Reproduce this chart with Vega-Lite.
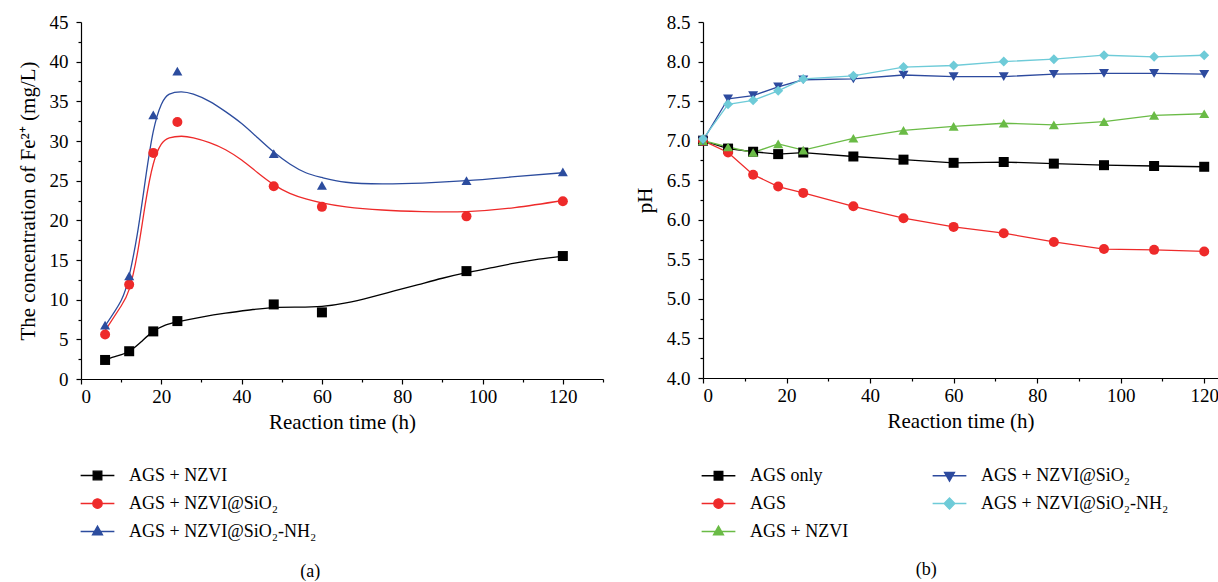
{
  "$schema": "https://vega.github.io/schema/vega-lite/v6.json",
  "background": "white",
  "padding": {"left": 17, "top": 13, "right": 0, "bottom": 0},
  "config": {
    "font": "Liberation Serif",
    "view": {"stroke": null},
    "axis": {
      "grid": false,
      "domainColor": "black",
      "tickColor": "black",
      "labelColor": "black",
      "titleColor": "black",
      "labelFont": "Liberation Serif",
      "titleFont": "Liberation Serif",
      "labelFontSize": 19,
      "titleFontSize": 21,
      "titleFontWeight": "normal",
      "domainWidth": 1.2,
      "tickWidth": 1.2
    },
    "legend": {"labelFont": "Liberation Serif", "labelFontSize": 18, "labelColor": "black", "labelLimit": 0},
    "title": {"font": "Liberation Serif", "fontSize": 18, "fontWeight": "normal", "color": "black"}
  },
  "datasets": {
    "fe": [
      {"s": "AGS + NZVI", "t": 6, "v": 2.4}, {"s": "AGS + NZVI", "t": 12, "v": 3.5}, {"s": "AGS + NZVI", "t": 18, "v": 6.0}, {"s": "AGS + NZVI", "t": 24, "v": 7.3},
      {"s": "AGS + NZVI", "t": 48, "v": 9.4}, {"s": "AGS + NZVI", "t": 60, "v": 8.4}, {"s": "AGS + NZVI", "t": 96, "v": 13.6}, {"s": "AGS + NZVI", "t": 120, "v": 15.5},
      {"s": "AGS + NZVI@SiO₂", "t": 6, "v": 5.6}, {"s": "AGS + NZVI@SiO₂", "t": 12, "v": 11.9}, {"s": "AGS + NZVI@SiO₂", "t": 18, "v": 28.5}, {"s": "AGS + NZVI@SiO₂", "t": 24, "v": 32.4},
      {"s": "AGS + NZVI@SiO₂", "t": 48, "v": 24.3}, {"s": "AGS + NZVI@SiO₂", "t": 60, "v": 21.7}, {"s": "AGS + NZVI@SiO₂", "t": 96, "v": 20.5}, {"s": "AGS + NZVI@SiO₂", "t": 120, "v": 22.4},
      {"s": "AGS + NZVI@SiO₂-NH₂", "t": 6, "v": 6.8}, {"s": "AGS + NZVI@SiO₂-NH₂", "t": 12, "v": 13.0}, {"s": "AGS + NZVI@SiO₂-NH₂", "t": 18, "v": 33.3}, {"s": "AGS + NZVI@SiO₂-NH₂", "t": 24, "v": 38.8},
      {"s": "AGS + NZVI@SiO₂-NH₂", "t": 48, "v": 28.4}, {"s": "AGS + NZVI@SiO₂-NH₂", "t": 60, "v": 24.4}, {"s": "AGS + NZVI@SiO₂-NH₂", "t": 96, "v": 25.0}, {"s": "AGS + NZVI@SiO₂-NH₂", "t": 120, "v": 26.1}
    ],
    "fefit": [
      {"s": "AGS + NZVI", "t": 6, "v": 2.4}, {"s": "AGS + NZVI", "t": 9, "v": 2.9}, {"s": "AGS + NZVI", "t": 12, "v": 3.5}, {"s": "AGS + NZVI", "t": 15, "v": 4.7},
      {"s": "AGS + NZVI", "t": 18, "v": 6.0}, {"s": "AGS + NZVI", "t": 21, "v": 6.8}, {"s": "AGS + NZVI", "t": 24, "v": 7.2}, {"s": "AGS + NZVI", "t": 30, "v": 7.8},
      {"s": "AGS + NZVI", "t": 36, "v": 8.3}, {"s": "AGS + NZVI", "t": 42, "v": 8.7}, {"s": "AGS + NZVI", "t": 48, "v": 9.0}, {"s": "AGS + NZVI", "t": 54, "v": 9.05},
      {"s": "AGS + NZVI", "t": 60, "v": 9.15}, {"s": "AGS + NZVI", "t": 66, "v": 9.6}, {"s": "AGS + NZVI", "t": 72, "v": 10.3}, {"s": "AGS + NZVI", "t": 78, "v": 11.1},
      {"s": "AGS + NZVI", "t": 84, "v": 11.9}, {"s": "AGS + NZVI", "t": 90, "v": 12.7}, {"s": "AGS + NZVI", "t": 96, "v": 13.4}, {"s": "AGS + NZVI", "t": 102, "v": 14.0},
      {"s": "AGS + NZVI", "t": 108, "v": 14.6}, {"s": "AGS + NZVI", "t": 114, "v": 15.1}, {"s": "AGS + NZVI", "t": 120, "v": 15.5},
      {"s": "AGS + NZVI@SiO₂", "t": 6, "v": 6.1}, {"s": "AGS + NZVI@SiO₂", "t": 10, "v": 9.2}, {"s": "AGS + NZVI@SiO₂", "t": 12, "v": 11.3}, {"s": "AGS + NZVI@SiO₂", "t": 14, "v": 15.7},
      {"s": "AGS + NZVI@SiO₂", "t": 16, "v": 22.0}, {"s": "AGS + NZVI@SiO₂", "t": 18, "v": 27.1}, {"s": "AGS + NZVI@SiO₂", "t": 20, "v": 29.6}, {"s": "AGS + NZVI@SiO₂", "t": 22, "v": 30.4},
      {"s": "AGS + NZVI@SiO₂", "t": 25, "v": 30.6}, {"s": "AGS + NZVI@SiO₂", "t": 28, "v": 30.4}, {"s": "AGS + NZVI@SiO₂", "t": 32, "v": 29.8}, {"s": "AGS + NZVI@SiO₂", "t": 36, "v": 28.9},
      {"s": "AGS + NZVI@SiO₂", "t": 40, "v": 27.6}, {"s": "AGS + NZVI@SiO₂", "t": 44, "v": 26.0}, {"s": "AGS + NZVI@SiO₂", "t": 48, "v": 24.5}, {"s": "AGS + NZVI@SiO₂", "t": 52, "v": 23.4},
      {"s": "AGS + NZVI@SiO₂", "t": 56, "v": 22.7}, {"s": "AGS + NZVI@SiO₂", "t": 60, "v": 22.2}, {"s": "AGS + NZVI@SiO₂", "t": 66, "v": 21.7}, {"s": "AGS + NZVI@SiO₂", "t": 75, "v": 21.3},
      {"s": "AGS + NZVI@SiO₂", "t": 85, "v": 21.1}, {"s": "AGS + NZVI@SiO₂", "t": 96, "v": 21.1}, {"s": "AGS + NZVI@SiO₂", "t": 108, "v": 21.6}, {"s": "AGS + NZVI@SiO₂", "t": 120, "v": 22.5},
      {"s": "AGS + NZVI@SiO₂-NH₂", "t": 6, "v": 6.7}, {"s": "AGS + NZVI@SiO₂-NH₂", "t": 10, "v": 9.9}, {"s": "AGS + NZVI@SiO₂-NH₂", "t": 12, "v": 13.0}, {"s": "AGS + NZVI@SiO₂-NH₂", "t": 14, "v": 18.2},
      {"s": "AGS + NZVI@SiO₂-NH₂", "t": 16, "v": 25.0}, {"s": "AGS + NZVI@SiO₂-NH₂", "t": 18, "v": 31.2}, {"s": "AGS + NZVI@SiO₂-NH₂", "t": 20, "v": 34.6}, {"s": "AGS + NZVI@SiO₂-NH₂", "t": 22, "v": 35.9},
      {"s": "AGS + NZVI@SiO₂-NH₂", "t": 25, "v": 36.2}, {"s": "AGS + NZVI@SiO₂-NH₂", "t": 28, "v": 35.9}, {"s": "AGS + NZVI@SiO₂-NH₂", "t": 32, "v": 35.0}, {"s": "AGS + NZVI@SiO₂-NH₂", "t": 36, "v": 33.7},
      {"s": "AGS + NZVI@SiO₂-NH₂", "t": 40, "v": 32.2}, {"s": "AGS + NZVI@SiO₂-NH₂", "t": 44, "v": 30.4}, {"s": "AGS + NZVI@SiO₂-NH₂", "t": 48, "v": 28.6}, {"s": "AGS + NZVI@SiO₂-NH₂", "t": 52, "v": 27.1},
      {"s": "AGS + NZVI@SiO₂-NH₂", "t": 56, "v": 26.0}, {"s": "AGS + NZVI@SiO₂-NH₂", "t": 60, "v": 25.4}, {"s": "AGS + NZVI@SiO₂-NH₂", "t": 66, "v": 24.8}, {"s": "AGS + NZVI@SiO₂-NH₂", "t": 75, "v": 24.6},
      {"s": "AGS + NZVI@SiO₂-NH₂", "t": 85, "v": 24.7}, {"s": "AGS + NZVI@SiO₂-NH₂", "t": 96, "v": 25.0}, {"s": "AGS + NZVI@SiO₂-NH₂", "t": 108, "v": 25.5}, {"s": "AGS + NZVI@SiO₂-NH₂", "t": 120, "v": 26.0}
    ],
    "ph": [
      {"s": "AGS only", "t": 0, "v": 7.0}, {"s": "AGS only", "t": 6, "v": 6.9}, {"s": "AGS only", "t": 12, "v": 6.86}, {"s": "AGS only", "t": 18, "v": 6.83}, {"s": "AGS only", "t": 24, "v": 6.85}, {"s": "AGS only", "t": 36, "v": 6.8}, {"s": "AGS only", "t": 48, "v": 6.76}, {"s": "AGS only", "t": 60, "v": 6.72}, {"s": "AGS only", "t": 72, "v": 6.73}, {"s": "AGS only", "t": 84, "v": 6.71}, {"s": "AGS only", "t": 96, "v": 6.69}, {"s": "AGS only", "t": 108, "v": 6.68}, {"s": "AGS only", "t": 120, "v": 6.67},
      {"s": "AGS", "t": 0, "v": 7.0}, {"s": "AGS", "t": 6, "v": 6.85}, {"s": "AGS", "t": 12, "v": 6.57}, {"s": "AGS", "t": 18, "v": 6.42}, {"s": "AGS", "t": 24, "v": 6.34}, {"s": "AGS", "t": 36, "v": 6.17}, {"s": "AGS", "t": 48, "v": 6.02}, {"s": "AGS", "t": 60, "v": 5.91}, {"s": "AGS", "t": 72, "v": 5.83}, {"s": "AGS", "t": 84, "v": 5.72}, {"s": "AGS", "t": 96, "v": 5.63}, {"s": "AGS", "t": 108, "v": 5.62}, {"s": "AGS", "t": 120, "v": 5.6},
      {"s": "AGS + NZVI", "t": 0, "v": 7.0}, {"s": "AGS + NZVI", "t": 6, "v": 6.92}, {"s": "AGS + NZVI", "t": 12, "v": 6.85}, {"s": "AGS + NZVI", "t": 18, "v": 6.96}, {"s": "AGS + NZVI", "t": 24, "v": 6.88}, {"s": "AGS + NZVI", "t": 36, "v": 7.03}, {"s": "AGS + NZVI", "t": 48, "v": 7.13}, {"s": "AGS + NZVI", "t": 60, "v": 7.18}, {"s": "AGS + NZVI", "t": 72, "v": 7.22}, {"s": "AGS + NZVI", "t": 84, "v": 7.2}, {"s": "AGS + NZVI", "t": 96, "v": 7.24}, {"s": "AGS + NZVI", "t": 108, "v": 7.32}, {"s": "AGS + NZVI", "t": 120, "v": 7.34},
      {"s": "AGS + NZVI@SiO₂", "t": 0, "v": 7.0}, {"s": "AGS + NZVI@SiO₂", "t": 6, "v": 7.53}, {"s": "AGS + NZVI@SiO₂", "t": 12, "v": 7.57}, {"s": "AGS + NZVI@SiO₂", "t": 18, "v": 7.68}, {"s": "AGS + NZVI@SiO₂", "t": 24, "v": 7.77}, {"s": "AGS + NZVI@SiO₂", "t": 36, "v": 7.78}, {"s": "AGS + NZVI@SiO₂", "t": 48, "v": 7.83}, {"s": "AGS + NZVI@SiO₂", "t": 60, "v": 7.81}, {"s": "AGS + NZVI@SiO₂", "t": 72, "v": 7.81}, {"s": "AGS + NZVI@SiO₂", "t": 84, "v": 7.84}, {"s": "AGS + NZVI@SiO₂", "t": 96, "v": 7.85}, {"s": "AGS + NZVI@SiO₂", "t": 108, "v": 7.85}, {"s": "AGS + NZVI@SiO₂", "t": 120, "v": 7.84},
      {"s": "AGS + NZVI@SiO₂-NH₂", "t": 0, "v": 7.02}, {"s": "AGS + NZVI@SiO₂-NH₂", "t": 6, "v": 7.46}, {"s": "AGS + NZVI@SiO₂-NH₂", "t": 12, "v": 7.51}, {"s": "AGS + NZVI@SiO₂-NH₂", "t": 18, "v": 7.63}, {"s": "AGS + NZVI@SiO₂-NH₂", "t": 24, "v": 7.78}, {"s": "AGS + NZVI@SiO₂-NH₂", "t": 36, "v": 7.82}, {"s": "AGS + NZVI@SiO₂-NH₂", "t": 48, "v": 7.93}, {"s": "AGS + NZVI@SiO₂-NH₂", "t": 60, "v": 7.95}, {"s": "AGS + NZVI@SiO₂-NH₂", "t": 72, "v": 8.0}, {"s": "AGS + NZVI@SiO₂-NH₂", "t": 84, "v": 8.03}, {"s": "AGS + NZVI@SiO₂-NH₂", "t": 96, "v": 8.08}, {"s": "AGS + NZVI@SiO₂-NH₂", "t": 108, "v": 8.06}, {"s": "AGS + NZVI@SiO₂-NH₂", "t": 120, "v": 8.08}
    ]
  },
  "spacing": 30,
  "hconcat": [
    {
      "width": 522,
      "height": 357,
      "title": {"text": "(a)", "orient": "bottom", "anchor": "middle", "frame": "bounds", "offset": 22},
      "layer": [
        {
          "data": {"name": "fefit"},
          "mark": {"type": "line", "interpolate": "natural", "strokeWidth": 1.3},
          "encoding": {
            "x": {"field": "t", "type": "quantitative", "scale": {"domain": [0, 130], "nice": false},
              "axis": {"values": [0, 20, 40, 60, 80, 100, 120], "tickSize": 5, "labelPadding": 3, "title": "Reaction time (h)", "titlePadding": 5}},
            "y": {"field": "v", "type": "quantitative", "scale": {"domain": [0, 45], "nice": false},
              "axis": {"values": [0, 5, 10, 15, 20, 25, 30, 35, 40, 45], "tickSize": 5, "labelPadding": 8, "title": "The concentration of Fe²⁺ (mg/L)", "titlePadding": 11}},
            "color": {"field": "s", "type": "nominal", "legend": null,
              "scale": {"domain": ["AGS + NZVI", "AGS + NZVI@SiO₂", "AGS + NZVI@SiO₂-NH₂"], "range": ["#000000", "#ee2a2a", "#2c4c9e"]}},
            "detail": {"field": "s"}
          }
        },
        {
          "data": {"name": "fe"},
          "mark": {"type": "point", "filled": true, "opacity": 1, "size": 100},
          "encoding": {
            "x": {"field": "t", "type": "quantitative",
              "axis": {"values": [10, 30, 50, 70, 90, 110, 130], "tickSize": 3, "labels": false, "domain": false, "title": null, "orient": "bottom"}},
            "y": {"field": "v", "type": "quantitative",
              "axis": {"values": [2.5, 7.5, 12.5, 17.5, 22.5, 27.5, 32.5, 37.5, 42.5], "tickSize": 3, "labels": false, "domain": false, "title": null, "orient": "left"}},
            "color": {"field": "s", "type": "nominal", "legend": null,
              "scale": {"domain": ["AGS + NZVI", "AGS + NZVI@SiO₂", "AGS + NZVI@SiO₂-NH₂"], "range": ["#000000", "#ee2a2a", "#2c4c9e"]}},
            "shape": {"field": "s", "type": "nominal", "legend": null,
              "scale": {"domain": ["AGS + NZVI", "AGS + NZVI@SiO₂", "AGS + NZVI@SiO₂-NH₂"], "range": ["square", "circle", "triangle-up"]}}
          }
        },
        {
          "data": {"name": "fe"},
          "mark": {"type": "point", "opacity": 0, "strokeWidth": 1.3},
          "encoding": {
            "x": {"field": "t", "type": "quantitative", "axis": null},
            "y": {"field": "v", "type": "quantitative", "axis": null},
            "fill": {"field": "s", "type": "nominal",
              "scale": {"domain": ["AGS + NZVI", "AGS + NZVI@SiO₂", "AGS + NZVI@SiO₂-NH₂"], "range": ["#000000", "#ee2a2a", "#2c4c9e"]},
              "legend": {"orient": "none", "legendX": 2, "legendY": 439, "title": null, "symbolSize": 729, "symbolStrokeWidth": 1.3, "labelOffset": 17, "rowPadding": 4,
                "encode": {"symbols": {"update": {"opacity": {"value": 1}}}}}},
            "stroke": {"field": "s", "type": "nominal",
              "scale": {"domain": ["AGS + NZVI", "AGS + NZVI@SiO₂", "AGS + NZVI@SiO₂-NH₂"], "range": ["#000000", "#ee2a2a", "#2c4c9e"]},
              "legend": {"orient": "none", "legendX": 2, "legendY": 439, "title": null, "symbolSize": 729, "symbolStrokeWidth": 1.3, "labelOffset": 17, "rowPadding": 4,
                "encode": {"symbols": {"update": {"opacity": {"value": 1}}}}}},
            "shape": {"field": "s", "type": "nominal",
              "scale": {"domain": ["AGS + NZVI", "AGS + NZVI@SiO₂", "AGS + NZVI@SiO₂-NH₂"],
                "range": ["M-1.25,0H1.25M-0.32,-0.32H0.32V0.32H-0.32Z", "M-1.25,0H1.25M0.35,0A0.35,0.35 0 1,1 -0.35,0A0.35,0.35 0 1,1 0.35,0Z", "M-1.25,0H1.25M0,-0.4L0.37,0.24L-0.37,0.24Z"]},
              "legend": {"orient": "none", "legendX": 2, "legendY": 439, "title": null, "symbolSize": 729, "symbolStrokeWidth": 1.3, "labelOffset": 17, "rowPadding": 4,
                "encode": {"symbols": {"update": {"opacity": {"value": 1}}}}}}
          }
        }
      ],
      "resolve": {
        "scale": {"color": "independent", "shape": "independent", "fill": "independent", "stroke": "independent"},
        "axis": {"x": "independent", "y": "independent"}
      }
    },
    {
      "width": 515,
      "height": 356,
      "title": {"text": "(b)", "orient": "bottom", "anchor": "middle", "frame": "bounds", "offset": 20},
      "layer": [
        {
          "data": {"name": "ph"},
          "mark": {"type": "line", "strokeWidth": 1.3},
          "encoding": {
            "x": {"field": "t", "type": "quantitative", "scale": {"domain": [0, 123.3], "nice": false},
              "axis": {"values": [0, 20, 40, 60, 80, 100, 120], "tickSize": 5, "labelPadding": 3, "title": "Reaction time (h)", "titlePadding": 5}},
            "y": {"field": "v", "type": "quantitative", "scale": {"domain": [4, 8.5], "nice": false, "zero": false},
              "axis": {"values": [4, 4.5, 5, 5.5, 6, 6.5, 7, 7.5, 8, 8.5], "format": ".1f", "tickSize": 5, "labelPadding": 8, "title": "pH", "titlePadding": 11}},
            "color": {"field": "s", "type": "nominal", "legend": null,
              "scale": {"domain": ["AGS only", "AGS", "AGS + NZVI", "AGS + NZVI@SiO₂", "AGS + NZVI@SiO₂-NH₂"], "range": ["#000000", "#ee2a2a", "#6abb46", "#2d4a9e", "#6ecbd8"]}},
            "detail": {"field": "s"}
          }
        },
        {
          "data": {"name": "ph"},
          "mark": {"type": "point", "filled": true, "opacity": 1, "size": 100},
          "encoding": {
            "x": {"field": "t", "type": "quantitative",
              "axis": {"values": [10, 30, 50, 70, 90, 110], "tickSize": 3, "labels": false, "domain": false, "title": null, "orient": "bottom"}},
            "y": {"field": "v", "type": "quantitative",
              "axis": {"values": [4.25, 4.75, 5.25, 5.75, 6.25, 6.75, 7.25, 7.75, 8.25], "tickSize": 3, "labels": false, "domain": false, "title": null, "orient": "left"}},
            "color": {"field": "s", "type": "nominal", "legend": null,
              "scale": {"domain": ["AGS only", "AGS", "AGS + NZVI", "AGS + NZVI@SiO₂", "AGS + NZVI@SiO₂-NH₂"], "range": ["#000000", "#ee2a2a", "#6abb46", "#2d4a9e", "#6ecbd8"]}},
            "shape": {"field": "s", "type": "nominal", "legend": null,
              "scale": {"domain": ["AGS only", "AGS", "AGS + NZVI", "AGS + NZVI@SiO₂", "AGS + NZVI@SiO₂-NH₂"], "range": ["square", "circle", "triangle-up", "triangle-down", "diamond"]}}
          }
        },
        {
          "data": {"name": "ph"},
          "mark": {"type": "point", "opacity": 0, "strokeWidth": 1.3},
          "encoding": {
            "x": {"field": "t", "type": "quantitative", "axis": null},
            "y": {"field": "v", "type": "quantitative", "axis": null},
            "fill": {"field": "s", "type": "nominal",
              "scale": {"domain": ["AGS only", "AGS", "AGS + NZVI", "AGS + NZVI@SiO₂", "AGS + NZVI@SiO₂-NH₂"], "range": ["#000000", "#ee2a2a", "#6abb46", "#2d4a9e", "#6ecbd8"]},
              "legend": {"orient": "none", "legendX": 1, "legendY": 439, "title": null, "columns": 2, "columnPadding": 81, "symbolSize": 729, "symbolStrokeWidth": 1.3, "labelOffset": 17, "rowPadding": 4,
                "encode": {"symbols": {"update": {"opacity": {"value": 1}}}}}},
            "stroke": {"field": "s", "type": "nominal",
              "scale": {"domain": ["AGS only", "AGS", "AGS + NZVI", "AGS + NZVI@SiO₂", "AGS + NZVI@SiO₂-NH₂"], "range": ["#000000", "#ee2a2a", "#6abb46", "#2d4a9e", "#6ecbd8"]},
              "legend": {"orient": "none", "legendX": 1, "legendY": 439, "title": null, "columns": 2, "columnPadding": 81, "symbolSize": 729, "symbolStrokeWidth": 1.3, "labelOffset": 17, "rowPadding": 4,
                "encode": {"symbols": {"update": {"opacity": {"value": 1}}}}}},
            "shape": {"field": "s", "type": "nominal",
              "scale": {"domain": ["AGS only", "AGS", "AGS + NZVI", "AGS + NZVI@SiO₂", "AGS + NZVI@SiO₂-NH₂"],
                "range": ["M-1.25,0H1.25M-0.32,-0.32H0.32V0.32H-0.32Z", "M-1.25,0H1.25M0.35,0A0.35,0.35 0 1,1 -0.35,0A0.35,0.35 0 1,1 0.35,0Z", "M-1.25,0H1.25M0,-0.4L0.37,0.24L-0.37,0.24Z", "M-1.25,0H1.25M0,0.4L0.37,-0.24L-0.37,-0.24Z", "M-1.25,0H1.25M0,-0.42L0.4,0L0,0.42L-0.4,0Z"]},
              "legend": {"orient": "none", "legendX": 1, "legendY": 439, "title": null, "columns": 2, "columnPadding": 81, "symbolSize": 729, "symbolStrokeWidth": 1.3, "labelOffset": 17, "rowPadding": 4,
                "encode": {"symbols": {"update": {"opacity": {"value": 1}}}}}}
          }
        }
      ],
      "resolve": {
        "scale": {"color": "independent", "shape": "independent", "fill": "independent", "stroke": "independent"},
        "axis": {"x": "independent", "y": "independent"}
      }
    }
  ],
  "resolve": {"scale": {"color": "independent", "shape": "independent", "fill": "independent", "stroke": "independent"}}
}
